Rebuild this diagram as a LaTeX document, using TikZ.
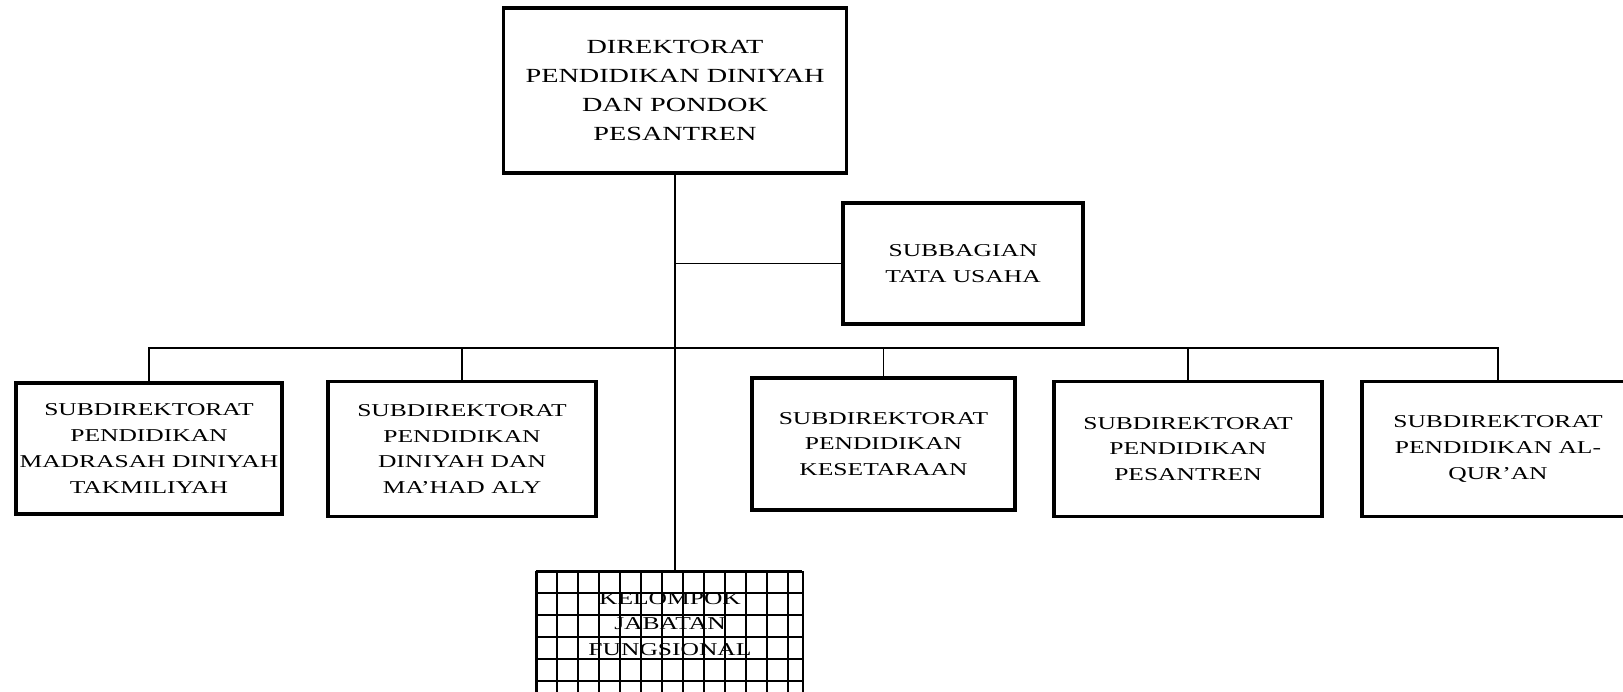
\documentclass[tikz,border=0pt]{standalone}
\usepackage{fontspec}
\setmainfont[FakeStretch=1.41]{Liberation Serif}

\begin{document}
\begin{tikzpicture}[
    unitbox/.style={draw, line width=1.9pt, align=center, inner sep=2pt,
      font=\fontsize{10.3}{14.7}\selectfont},
    topbox/.style={unitbox, font=\fontsize{11.4}{16.4}\selectfont,
      minimum width=6.86cm, minimum height=3.30cm},
    subbox/.style={unitbox, minimum width=5.36cm, minimum height=2.70cm},
    gridbox/.style={draw, line width=1.2pt, minimum width=5.32cm, minimum height=2.56cm},
    gridline/.style={line width=0.7pt},
    link/.style={draw, line width=1.1pt}
  ]
  \useasboundingbox (0,0) rectangle (32.46,13.84);

  \node[topbox] (dir) at (13.5,12.03) {DIREKTORAT\\PENDIDIKAN DINIYAH\\DAN PONDOK\\PESANTREN};
  \node[unitbox, minimum width=4.8cm, minimum height=2.42cm] (tu) at (19.26,8.57) {SUBBAGIAN\\TATA USAHA};

  \node[subbox, minimum width=5.32cm, minimum height=2.62cm] (madin) at (2.98,4.87) {SUBDIREKTORAT\\PENDIDIKAN\\MADRASAH DINIYAH\\TAKMILIYAH};
  \node[subbox] (mahad) at (9.24,4.86) {SUBDIREKTORAT\\PENDIDIKAN\\DINIYAH DAN\\MA'HAD ALY};
  \node[subbox, minimum width=5.26cm, minimum height=2.64cm] (setara) at (17.67,4.96) {SUBDIREKTORAT\\PENDIDIKAN\\KESETARAAN};
  \node[subbox] (pesantren) at (23.76,4.86) {SUBDIREKTORAT\\PENDIDIKAN\\PESANTREN};
  \node[subbox, minimum width=5.44cm] (quran) at (29.96,4.86) {SUBDIREKTORAT\\PENDIDIKAN AL-\\QUR'AN};

  \node[gridbox] (kel) at (13.4,1.12) {};
  \begin{scope}[shift={(kel.north west)}]
    \draw[gridline] (0,-2.56) grid[xstep=0.42cm, ystep=0.44cm] (5.32,0);
  \end{scope}
  \node[align=center, font=\fontsize{10.3}{14.7}\selectfont] (keltext) at ([yshift=0.24cm]kel.center) {KELOMPOK\\JABATAN\\FUNGSIONAL};

  \coordinate (bus) at (dir.south |- 0,6.88);
  \draw[link] (dir.south) -- (dir.south |- kel.north);
  \draw[link] (tu.west) -- (dir.south |- tu.west);
  \draw[link] (madin.north) |- (bus) -| (quran.north);
  \draw[link] (mahad.north) -- (mahad.north |- bus);
  \draw[link] (setara.north) -- (setara.north |- bus);
  \draw[link] (pesantren.north) -- (pesantren.north |- bus);
\end{tikzpicture}
\end{document}
